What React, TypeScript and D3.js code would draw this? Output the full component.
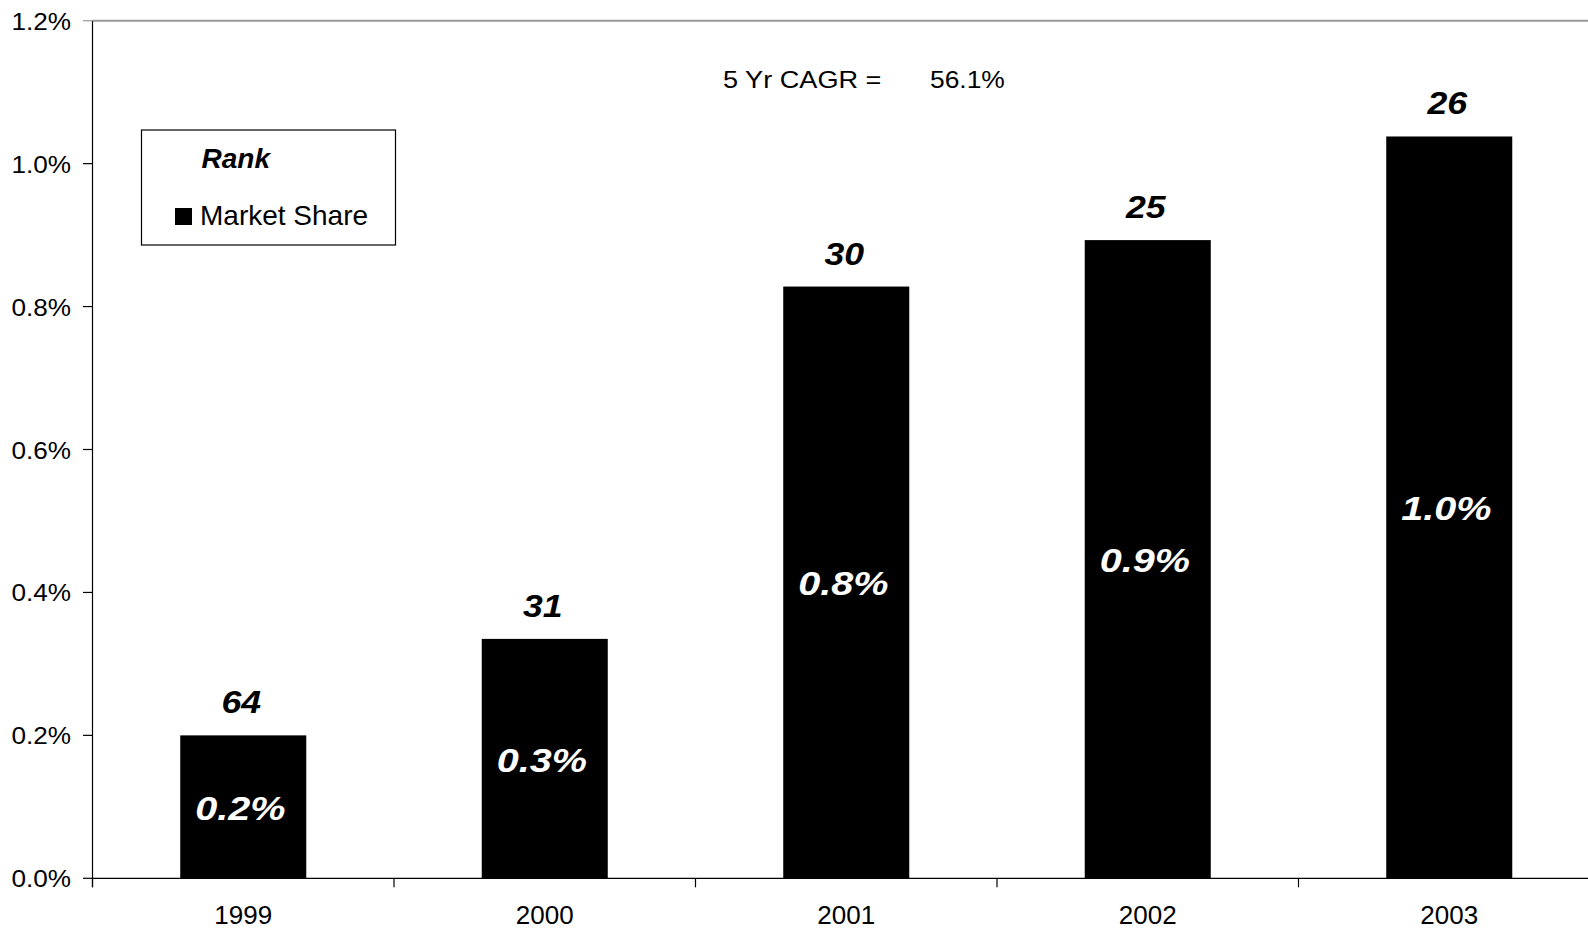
import React from "react";
import * as d3 from "d3";

const years = ["1999", "2000", "2001", "2002", "2003"];
const marketShare = [0.002, 0.00335, 0.00828, 0.00893, 0.01038];
const ranks = [64, 31, 30, 25, 26];
const yTicks = [0, 0.002, 0.004, 0.006, 0.008, 0.01, 0.012];
const cagrLabel = "5 Yr CAGR =";
const cagrValue = "56.1%";
const legendTitle = "Rank";
const legendLabel = "Market Share";

const W = 1588;
const H = 928;
const FONT = "'Liberation Sans', Arial, sans-serif";

type STProps = {
  x: number;
  y: number;
  sx: number;
  anchor?: "start" | "middle" | "end";
  size: number;
  bold?: boolean;
  italic?: boolean;
  fill?: string;
  children: React.ReactNode;
};

function SText({ x, y, sx, anchor = "start", size, bold, italic, fill = "#000", children }: STProps) {
  return (
    <text
      transform={`translate(${x},${y}) scale(${sx},1)`}
      x={0}
      y={0}
      textAnchor={anchor}
      fontSize={size}
      fontWeight={bold ? "bold" : "normal"}
      fontStyle={italic ? "italic" : "normal"}
      fill={fill}
    >
      {children}
    </text>
  );
}

export default function App() {
  const left = 92.5;
  const bottom = 878.3;
  const top = 20.7;
  const y = d3.scaleLinear().domain([0, 0.012]).range([bottom, top]);
  const x = d3
    .scaleBand<string>()
    .domain(years)
    .range([left, 1600])
    .paddingInner(0.582)
    .paddingOuter(0.291);
  const step = x.step();
  const pctFmt = d3.format(".1%");
  const boundaries = d3.range(years.length + 1).map((i) => left + i * step);

  return (
    <svg
      width={W}
      height={H}
      style={{ position: "fixed", left: 0, top: 0, background: "#fff" }}
      fontFamily={FONT}
    >
      <rect x={0} y={0} width={W} height={H} fill="#fff" />
      {/* top border line */}
      <line x1={left} x2={W} y1={y(0.012)} y2={y(0.012)} stroke="#999" strokeWidth={2} />
      {/* y axis */}
      <line x1={left} x2={left} y1={top} y2={bottom + 9} stroke="#000" strokeWidth={1.2} />
      {yTicks.map((t) => (
        <g key={t}>
          <line x1={83} x2={left} y1={y(t)} y2={y(t)} stroke={t === 0.012 ? "#999" : "#000"} strokeWidth={1.2} />
          <SText x={71} y={y(t) + 9} sx={1.09} anchor="end" size={24}>
            {d3.format(".1%")(t)}
          </SText>
        </g>
      ))}
      {/* bars */}
      {years.map((yr, i) => {
        const bx = x(yr)!;
        const bw = x.bandwidth();
        const by = y(marketShare[i]);
        const mid = (by + bottom) / 2;
        const cx = bx + bw / 2;
        return (
          <g key={yr}>
            <rect x={bx} y={by} width={bw} height={bottom - by} fill="#000" />
            <SText x={cx - 2} y={by - 22} sx={1.15} anchor="middle" size={31} bold italic>
              {ranks[i]}
            </SText>
            <SText x={cx - 3} y={mid + 13} sx={1.2} anchor="middle" size={33} bold italic fill="#fff">
              {pctFmt(marketShare[i])}
            </SText>
            <text x={cx} y={924} textAnchor="middle" fontSize={26} fill="#000">
              {yr}
            </text>
          </g>
        );
      })}
      {/* x axis */}
      <line x1={left} x2={W} y1={bottom} y2={bottom} stroke="#000" strokeWidth={1.2} />
      {boundaries.map((b, i) => (
        <line key={i} x1={b} x2={b} y1={bottom} y2={bottom + 9} stroke="#000" strokeWidth={1.2} />
      ))}
      {/* CAGR */}
      <SText x={723} y={88} sx={1.13} size={24}>
        {cagrLabel}
      </SText>
      <SText x={930} y={88} sx={1.1} size={24}>
        {cagrValue}
      </SText>
      {/* legend */}
      <rect x={141.5} y={130} width={254} height={115} fill="#fff" stroke="#000" strokeWidth={1.2} />
      <text x={201.5} y={168} fontSize={28} fontWeight="bold" fontStyle="italic" fill="#000">
        {legendTitle}
      </text>
      <rect x={175} y={208} width={17} height={17} fill="#000" />
      <text x={200} y={225} fontSize={28} fill="#000">
        {legendLabel}
      </text>
    </svg>
  );
}
